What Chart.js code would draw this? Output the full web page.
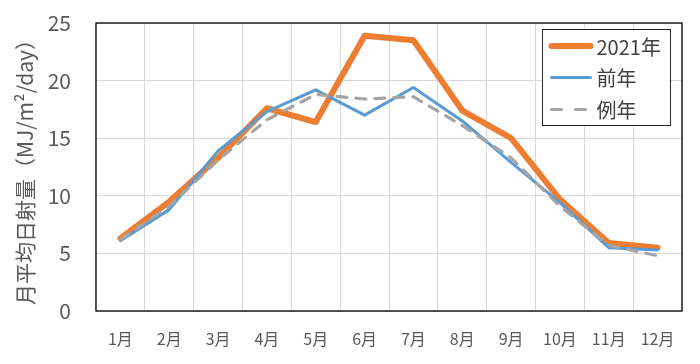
<!DOCTYPE html>
<html>
<head>
<meta charset="utf-8">
<script src="https://cdn.jsdelivr.net/npm/chart.js"></script>
<style>
  html, body { margin: 0; padding: 0; background: #fff; }
  #wrap { width: 700px; height: 364px; position: relative; }
</style>
</head>
<body>
<div id="wrap"><canvas id="c"></canvas></div>
<script>
const months = ['1月','2月','3月','4月','5月','6月','7月','8月','9月','10月','11月','12月'];
const seriesNames = ['2021年', '前年', '例年'];
const values2021 = [6.3, 9.5, 13.3, 17.6, 16.4, 23.9, 23.5, 17.4, 15.0, 9.7, 5.9, 5.5];
const valuesPrev = [6.1, 8.8, 13.9, 17.3, 19.2, 17.0, 19.4, 16.5, 12.9, 9.4, 5.5, 5.3];
const valuesNormal = [6.2, 9.1, 13.1, 16.6, 18.8, 18.4, 18.6, 16.1, 13.3, 9.1, 5.7, 4.8];
const yTitle = '月平均日射量（MJ/m²/day）';

const FONT = '"Noto Sans CJK JP", "Noto Sans", sans-serif';
const TXT = '#595959';

const frameAndLegend = {
  id: 'frameAndLegend',
  afterDraw(chart) {
    const {ctx, chartArea: a} = chart;
    ctx.save();
    ctx.strokeStyle = '#000';
    ctx.lineWidth = 1.3;
    ctx.strokeRect(a.left, a.top, a.right - a.left, a.bottom - a.top);
    const bw = 128, bh = 96;
    const bx = Math.round(a.right - 12 - bw) + 0.5;
    const by = Math.round(a.top + 6) + 0.5;
    ctx.fillStyle = '#fff';
    ctx.fillRect(bx, by, bw, bh);
    ctx.strokeStyle = '#262626';
    ctx.lineWidth = 1;
    ctx.strokeRect(bx, by, bw, bh);
    const rowY = [by + 16.5, by + 48, by + 80];
    ctx.font = '20px ' + FONT;
    ctx.textBaseline = 'middle';
    ctx.textAlign = 'left';
    chart.data.datasets.forEach((ds, i) => {
      const y = rowY[i];
      ctx.beginPath();
      ctx.strokeStyle = ds.borderColor;
      ctx.lineWidth = ds.borderWidth;
      ctx.lineCap = 'round';
      ctx.setLineDash(ds.legendDash || []);
      ctx.moveTo(bx + 9, y);
      ctx.lineTo(bx + 48, y);
      ctx.stroke();
      ctx.setLineDash([]);
      ctx.fillStyle = '#404040';
      ctx.fillText(ds.label, bx + 54, y + 1);
    });
    ctx.restore();
  }
};

new Chart(document.getElementById('c'), {
  type: 'line',
  data: {
    labels: months,
    datasets: [
      { label: seriesNames[0], data: values2021, borderColor: '#ED7D31', backgroundColor: '#ED7D31',
        borderWidth: 6, borderCapStyle: 'round', borderJoinStyle: 'round', pointRadius: 0, order: 3, tension: 0 },
      { label: seriesNames[1], data: valuesPrev, borderColor: '#5B9BD5', backgroundColor: '#5B9BD5',
        borderWidth: 3, borderCapStyle: 'round', borderJoinStyle: 'round', pointRadius: 0, order: 2, tension: 0 },
      { label: seriesNames[2], data: valuesNormal, borderColor: '#A5A5A5', backgroundColor: '#A5A5A5',
        borderWidth: 3.2, borderDash: [10, 9], borderCapStyle: 'round', borderJoinStyle: 'round',
        legendDash: [10, 14], pointRadius: 0, order: 1, tension: 0 }
    ]
  },
  options: {
    responsive: true,
    maintainAspectRatio: false,
    animation: false,
    layout: { padding: { left: 0, top: 23, right: 18, bottom: 0 } },
    plugins: { legend: { display: false }, tooltip: { enabled: false } },
    scales: {
      x: {
        offset: true,
        grid: { color: '#d9d9d9', lineWidth: 1, drawTicks: false, offset: true },
        border: { display: false },
        ticks: { color: TXT, font: { family: FONT, size: 16 }, padding: 18, maxRotation: 0, autoSkip: false },
        afterFit(s) { s.height = 53; s.paddingLeft = 0; s.paddingRight = 0; }
      },
      y: {
        min: 0, max: 25,
        grid: { color: '#d9d9d9', lineWidth: 1, drawTicks: false },
        border: { display: false },
        ticks: { stepSize: 5, color: TXT, font: { family: FONT, size: 21 }, padding: 25 },
        title: { display: true, text: yTitle, color: TXT, font: { family: FONT, size: 21 }, padding: { top: 12, bottom: 0 } },
        afterFit(s) { s.width = 96; s.paddingTop = 0; s.paddingBottom = 0; }
      }
    }
  },
  plugins: [frameAndLegend]
});
</script>
</body>
</html>
